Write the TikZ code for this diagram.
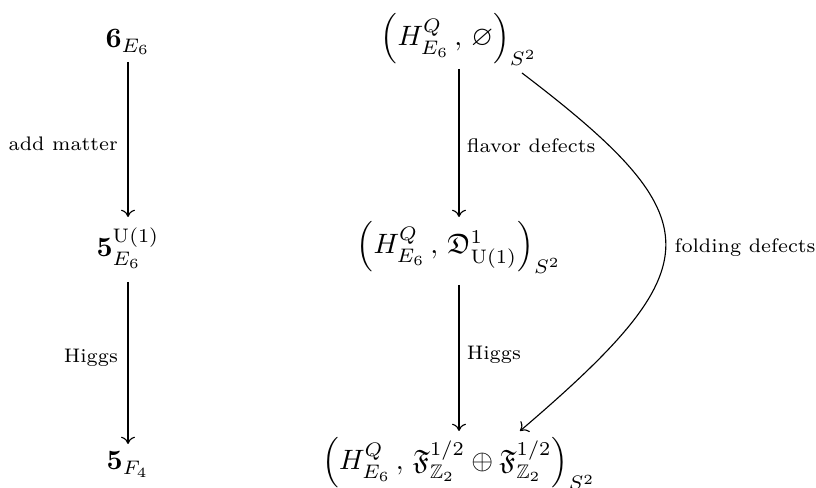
\documentclass[tikz,border=0pt]{standalone}
\usepackage{amsmath,amssymb}
\usetikzlibrary{arrows.meta}
\begin{document}
\begin{tikzpicture}[x=0.357pt,y=-0.357pt,
  obj/.style={anchor=base,inner sep=0pt},
  arr/.style={-{To[length=2.6pt,width=5pt]},line width=0.4pt},
  lab/.style={font=\scriptsize,inner sep=0pt}]
\useasboundingbox (0,0) rectangle (816,488);
% left column
\node[obj] (a1) at (128,48) {$\mathbf{6}_{E_6}$};
\node[obj] (a2) at (128,257) {$\mathbf{5}^{\mathrm{U}(1)}_{E_6}$};
\node[obj] (a3) at (128,470) {$\mathbf{5}_{F_4}$};
% middle column
\node[obj] (b1) at (459,46) {$\Big(H^{Q}_{E_6}\,,\,\varnothing\Big)_{S^2}$};
\node[obj] (b2) at (459,254) {$\Big(H^{Q}_{E_6}\,,\,\mathfrak{D}^{1}_{\mathrm{U}(1)}\Big)_{S^2}$};
\node[obj] (b3) at (459,470) {$\Big(H^{Q}_{E_6}\,,\,\mathfrak{F}^{1/2}_{\mathbb{Z}_2}\oplus\mathfrak{F}^{1/2}_{\mathbb{Z}_2}\Big)_{S^2}$};
% connectors
\coordinate (a1s) at (128,62);
\coordinate (a2n) at (128,217);
\coordinate (a2s) at (128,282);
\coordinate (a3n) at (128,444);
\coordinate (b1s) at (459,69);
\coordinate (b2n) at (459,217);
\coordinate (b2s) at (459,285);
\coordinate (b3n) at (459,431);
\coordinate (cs) at (522,73);
\coordinate (ce) at (520,431);
\draw[arr] (a1s) -- node[lab,pos=0.53,anchor=east,xshift=-3.4pt] {add matter} (a2n);
\draw[arr] (a2s) -- node[lab,pos=0.47,anchor=east,xshift=-3.4pt] {Higgs} (a3n);
\draw[arr] (b1s) -- node[lab,pos=0.52,anchor=west,xshift=2.6pt] {flavor defects} (b2n);
\draw[arr] (b2s) -- node[lab,pos=0.48,anchor=west,xshift=2.6pt] {Higgs} (b3n);
\draw[arr] (cs) .. controls (715,220) and (713,266) .. (ce);
\node[lab,anchor=west] (fd) at (674,248) {folding defects};
\end{tikzpicture}
\end{document}
